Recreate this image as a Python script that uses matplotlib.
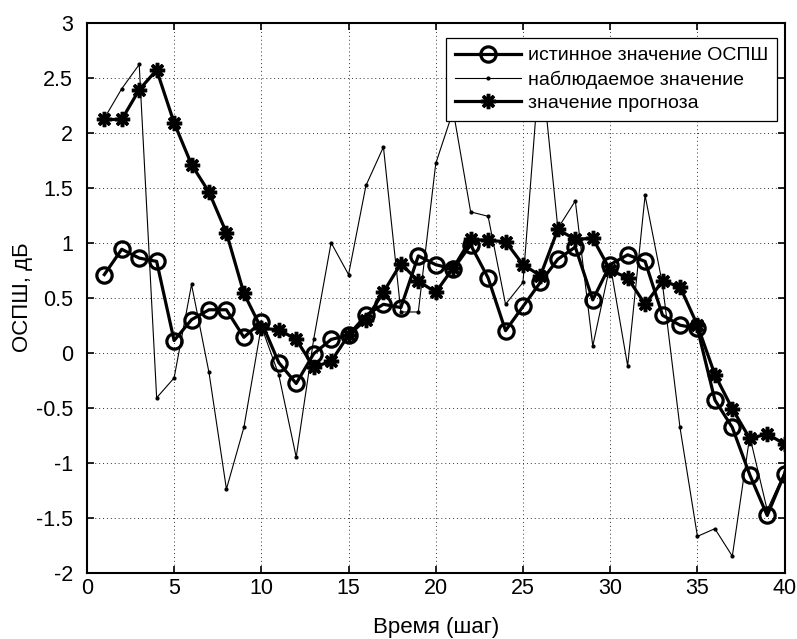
#!/usr/bin/env python

import matplotlib as mpl
mpl.use('Agg')
import matplotlib.pyplot as plt
from matplotlib.ticker import FuncFormatter

steps = list(range(1, 41))

true_snr = [0.71, 0.94, 0.86, 0.83, 0.11, 0.30, 0.39, 0.39, 0.14, 0.28,
            -0.09, -0.28, -0.01, 0.12, 0.16, 0.34, 0.44, 0.41, 0.88, 0.80,
            0.76, 0.98, 0.68, 0.20, 0.42, 0.64, 0.85, 0.96, 0.48, 0.80,
            0.89, 0.83, 0.34, 0.25, 0.22, -0.43, -0.68, -1.11, -1.48, -1.10]

observed = [2.13, 2.40, 2.62, -0.41, -0.23, 0.62, -0.18, -1.24, -0.68, 0.24,
            -0.20, -0.95, 0.12, 1.00, 0.71, 1.52, 1.87, 0.37, 0.37, 1.72,
            2.20, 1.28, 1.24, 0.44, 0.64, 2.70, 1.13, 1.38, 0.06, 0.80,
            -0.12, 1.43, 0.62, -0.68, -1.67, -1.60, -1.85, -0.76, -1.43, -1.08]

forecast = [2.12, 2.12, 2.39, 2.57, 2.09, 1.71, 1.46, 1.09, 0.54, 0.22,
            0.21, 0.12, -0.13, -0.08, 0.16, 0.30, 0.55, 0.81, 0.65, 0.55,
            0.77, 1.03, 1.02, 1.01, 0.80, 0.70, 1.12, 1.03, 1.04, 0.75,
            0.68, 0.44, 0.65, 0.60, 0.25, -0.20, -0.51, -0.78, -0.74, -0.83]

labels = ['истинное значение ОСПШ', 'наблюдаемое значение', 'значение прогноза']
x_ticks = list(range(0, 41, 5))
y_ticks = [-2, -1.5, -1, -0.5, 0, 0.5, 1, 1.5, 2, 2.5, 3]


def load_style():
    mpl.rc('font', family=['Liberation Sans', 'DejaVu Sans'], size=15.5)
    mpl.rc('axes', linewidth=1.5, labelsize=16)
    mpl.rc('xtick', direction='in', top=True, labelsize=15.5)
    mpl.rc('ytick', direction='in', right=True, labelsize=15.5)
    mpl.rc('xtick.major', width=1.2, size=5, pad=4)
    mpl.rc('ytick.major', width=1.2, size=5, pad=10)
    mpl.rc('figure', facecolor='white')


def main():
    fig = plt.figure(figsize=(7.97, 6.39), dpi=100)
    axes = fig.add_axes([0.109, 0.1038, 0.8755, 0.8607])

    axes.plot(steps, true_snr, color='black', linewidth=2.3,
              marker='o', markersize=11, markerfacecolor='none',
              markeredgewidth=2.3, label=labels[0], zorder=3)
    axes.plot(steps, observed, color='black', linewidth=0.8,
              marker='.', markersize=4, label=labels[1], zorder=2)
    axes.plot(steps, forecast, color='black', linewidth=2.3,
              marker=(8, 2, 0), markersize=11, markeredgewidth=2.5,
              label=labels[2], zorder=4)

    axes.set_xlim(0, 40)
    axes.set_ylim(-2, 3)
    axes.set_xticks(x_ticks)
    axes.set_yticks(y_ticks)
    axes.yaxis.set_major_formatter(FuncFormatter(lambda v, p: '%g' % v))
    axes.grid(True, linestyle=(0, (1, 3)), color='#333333', linewidth=0.7)

    axes.set_xlabel('Время (шаг)', labelpad=13)
    axes.set_ylabel('ОСПШ, дБ', labelpad=2)

    leg = axes.legend(loc='upper right', bbox_to_anchor=(0.989, 0.972),
                      borderaxespad=0, fancybox=False, framealpha=1,
                      edgecolor='black', fontsize=14, handlelength=3.4,
                      handletextpad=0.35, labelspacing=0.3,
                      borderpad=0.45)
    leg.get_frame().set_linewidth(0.9)

    fig.savefig('out.png', dpi=100)


if __name__ == '__main__':
    load_style()
    main()
